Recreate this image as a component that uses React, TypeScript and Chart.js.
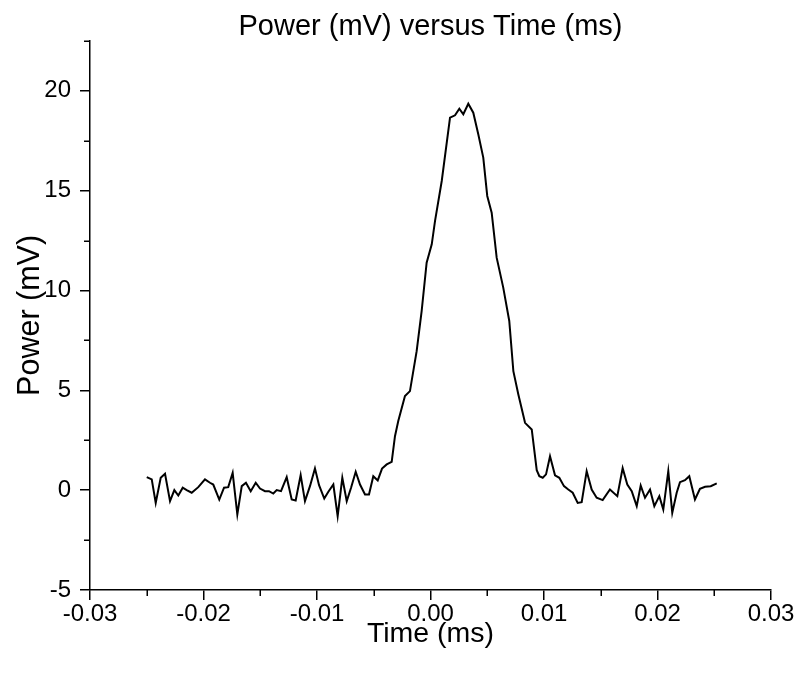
import React, { useEffect, useRef } from 'react';
import { Chart, registerables } from 'chart.js';

Chart.register(...registerables);

const chartTitle = 'Power (mV) versus Time (ms)';
const xTitle = 'Time (ms)';
const yTitle = 'Power (mV)';

const times = [
  -0.025, -0.02456, -0.02421, -0.02377, -0.02339, -0.02295, -0.02257, -0.02222, -0.02183, -0.02148,
  -0.02104, -0.02046, -0.01987, -0.01943, -0.01914, -0.01861, -0.01819, -0.01782, -0.01743, -0.01702,
  -0.01663, -0.01626, -0.01584, -0.0154, -0.01502, -0.01458, -0.01423, -0.01385, -0.01355, -0.01317,
  -0.01267, -0.01223, -0.01188, -0.01144, -0.01106, -0.01062, -0.01018, -0.00982, -0.00936, -0.009,
  -0.00856, -0.00818, -0.00777, -0.00738, -0.007, -0.00659, -0.00621, -0.00577, -0.00542, -0.00504,
  -0.00465, -0.00427, -0.00386, -0.00342, -0.00313, -0.00284, -0.00225, -0.00181, -0.00122, -0.00078,
  -0.00034, 0.00011, 0.0004, 0.00099, 0.00172, 0.00216, 0.00254, 0.00289, 0.00333, 0.00377,
  0.00421, 0.00465, 0.005, 0.00539, 0.00583, 0.00641, 0.00694, 0.0073, 0.00774, 0.00833,
  0.00892, 0.00936, 0.00959, 0.00989, 0.01018, 0.01053, 0.01097, 0.01135, 0.01176, 0.01214,
  0.01253, 0.01297, 0.01332, 0.01376, 0.0142, 0.01464, 0.01517, 0.01581, 0.01646, 0.01693,
  0.01734, 0.01773, 0.01817, 0.01852, 0.0189, 0.01934, 0.01972, 0.02016, 0.02051, 0.02095,
  0.0213, 0.02169, 0.02198, 0.02242, 0.0228, 0.0233, 0.02374, 0.02419, 0.02469, 0.02522,
];

const power = [
  0.65, 0.54, -0.64, 0.62, 0.82, -0.55, 0.0, -0.27, 0.12, 0.0,
  -0.13, 0.15, 0.54, 0.37, 0.28, -0.47, 0.12, 0.15, 0.87, -1.22,
  0.2, 0.37, -0.05, 0.37, 0.08, -0.05, -0.05, -0.17, 0.0, -0.05,
  0.65, -0.47, -0.52, 0.75, -0.55, 0.2, 1.09, 0.25, -0.42, -0.08,
  0.28, -1.3, 0.62, -0.55, 0.12, 0.92, 0.28, -0.22, -0.22, 0.7,
  0.49, 1.08, 1.29, 1.42, 2.7, 3.46, 4.71, 4.96, 6.96, 8.97,
  11.39, 12.31, 13.48, 15.48, 18.65, 18.77, 19.1, 18.82, 19.35, 18.9,
  17.82, 16.65, 14.73, 13.89, 11.64, 10.14, 8.47, 5.96, 4.79, 3.37,
  3.04, 1.0, 0.7, 0.62, 0.79, 1.7, 0.74, 0.62, 0.2, 0.03,
  -0.13, -0.64, -0.6, 0.95, 0.03, -0.38, -0.5, 0.03, -0.3, 1.1,
  0.28, -0.05, -0.8, 0.23, -0.38, 0.03, -0.8, -0.3, -0.97, 0.95,
  -1.14, -0.13, 0.4, 0.5, 0.7, -0.47, 0.07, 0.17, 0.2, 0.34,
];

const xTickValues = [-0.03, -0.02, -0.01, 0, 0.01, 0.02, 0.03];
const yTickValues = [-5, 0, 5, 10, 15, 20];
const xMinorTicks = [-0.025, -0.015, -0.005, 0.005, 0.015, 0.025];
const yMinorTicks = [-2.5, 2.5, 7.5, 12.5, 17.5, 22.5];

const FONT = "'Liberation Sans', Arial, sans-serif";

const minorTicksPlugin = {
  id: 'minorTicks',
  afterDraw(chart: any) {
    const { ctx, chartArea, scales } = chart;
    const x = scales.x;
    const y = scales.y;
    ctx.save();
    ctx.strokeStyle = '#000';
    ctx.lineWidth = 1.5;
    ctx.beginPath();
    xMinorTicks.forEach((v) => {
      const px = Math.round(x.getPixelForValue(v)) + 0.25;
      ctx.moveTo(px, chartArea.bottom);
      ctx.lineTo(px, chartArea.bottom + 6);
    });
    yMinorTicks.forEach((v) => {
      const py = Math.round(y.getPixelForValue(v)) + 0.25;
      ctx.moveTo(chartArea.left, py);
      ctx.lineTo(chartArea.left - 6, py);
    });
    ctx.stroke();
    ctx.restore();
  },
};

export default function App() {
  const canvasRef = useRef<HTMLCanvasElement | null>(null);

  useEffect(() => {
    if (!canvasRef.current) return;
    const chart = new Chart(canvasRef.current, {
      type: 'line',
      data: {
        datasets: [
          {
            data: times.map((t, i) => ({ x: t, y: power[i] })),
            borderColor: '#000',
            borderWidth: 2,
            pointRadius: 0,
            tension: 0,
            fill: false,
          },
        ],
      },
      options: {
        responsive: false,
        animation: false,
        layout: { padding: { top: 0, right: 24, bottom: 0, left: 0 } },
        plugins: {
          legend: { display: false },
          tooltip: { enabled: false },
          title: {
            display: true,
            text: chartTitle,
            fullSize: false,
            color: '#000',
            font: { family: FONT, size: 29, weight: 'normal' },
            padding: { top: 10, bottom: -4 },
          },
        },
        scales: {
          x: {
            type: 'linear',
            min: -0.03,
            max: 0.03,
            afterBuildTicks: (scale: any) => {
              scale.ticks = xTickValues.map((v) => ({ value: v }));
            },
            afterFit: (scale: any) => {
              scale.height = 86;
            },
            ticks: {
              color: '#000',
              font: { family: FONT, size: 24 },
              padding: 0,
              maxRotation: 0,
              autoSkip: false,
              callback: (v: any) => Number(v).toFixed(2),
            },
            grid: {
              display: true,
              drawOnChartArea: false,
              drawTicks: true,
              tickLength: 10,
              color: '#000',
              lineWidth: 1.5,
            },
            border: { display: true, color: '#000', width: 1.5 },
            title: {
              display: true,
              text: xTitle,
              color: '#000',
              font: { family: FONT, size: 28.5 },
              padding: { top: 0, bottom: 25 },
            },
          },
          y: {
            type: 'linear',
            min: -5,
            max: 22.5,
            afterBuildTicks: (scale: any) => {
              scale.ticks = yTickValues.map((v) => ({ value: v }));
            },
            afterFit: (scale: any) => {
              scale.width = 90;
            },
            ticks: {
              color: '#000',
              font: { family: FONT, size: 24 },
              padding: 9,
              autoSkip: false,
              callback: (v: any) => String(v),
            },
            grid: {
              display: true,
              drawOnChartArea: false,
              drawTicks: true,
              tickLength: 10,
              color: '#000',
              lineWidth: 1.5,
            },
            border: { display: true, color: '#000', width: 1.5 },
            title: {
              display: true,
              text: yTitle,
              color: '#000',
              font: { family: FONT, size: 30.5 },
              padding: { top: 12, bottom: 0 },
            },
          },
        },
      },
      plugins: [minorTicksPlugin],
    });
    return () => chart.destroy();
  }, []);

  return (
    <div style={{ position: 'fixed', left: 0, top: 0, width: 795, height: 676, background: '#fff' }}>
      <canvas ref={canvasRef} width={795} height={676} />
    </div>
  );
}
